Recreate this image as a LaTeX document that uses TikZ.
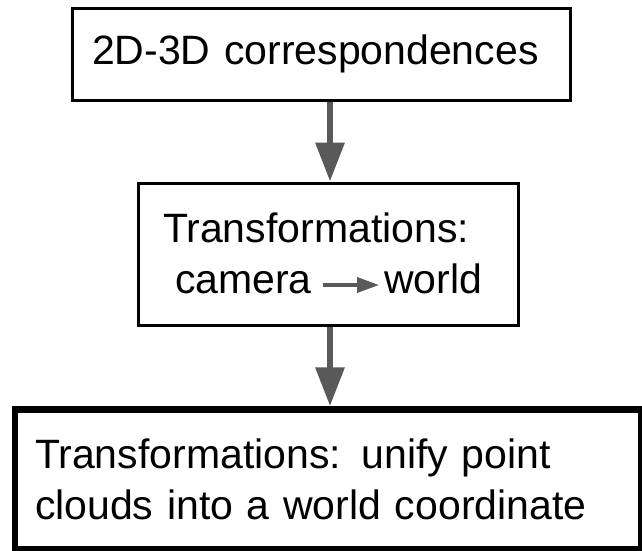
\documentclass[tikz,border=0pt]{standalone}
\usepackage{fontspec}
\setmainfont{Liberation Sans}
\usetikzlibrary{arrows.meta,calc}
\definecolor{arrowgray}{RGB}{89,89,89}
\tikzset{
  box/.style={draw=black, rectangle, line width=3pt, fill=white, inner ysep=0pt},
  bigbox/.style={draw=black, rectangle, line width=6.5pt, fill=white, inner ysep=0pt},
  lbl/.style={inner sep=0pt, outer sep=0pt},
  bigarrow/.style={draw=arrowgray, line width=6.5pt, -{Triangle[length=39pt,width=28pt]}},
  smallarrow/.style={draw=arrowgray, line width=3.5pt, -{Triangle[length=22pt,width=15pt]}},
  big/.style={font=\fontsize{41}{50.5}\selectfont}
}
\begin{document}
\begin{tikzpicture}[x=1pt,y=-1pt]
\useasboundingbox (0,0) rectangle (642,550);
% boxes
\node[box, big, minimum width=498pt, minimum height=92pt, inner xsep=20pt,
      text width=458pt, align=left] (b1) at (321,54) {2D-3D correspondences};
\node[box, minimum width=380pt, minimum height=142pt] (b2) at (328,254) {};
\node[bigbox, big, minimum width=626pt, minimum height=140pt, inner xsep=20pt,
      text width=586pt, align=left] (b3) at (328,479.5)
      {Transformations: unify point\\clouds into a world coordinate};
% middle box text
\node[lbl, big, anchor=base west] (t2) at (163,242) {Transformations:};
\node[lbl, big, anchor=base west] (cam) at (175,293) {camera};
\node[lbl, big, anchor=base east] (wld) at (482,293) {world};
\draw[smallarrow] ($(cam.base east)+(11,-8)$) -- ($(wld.base west)+(-5,-8)$);
% connectors
\coordinate (ax) at (330,0);
\draw[bigarrow] (b1.south -| ax) -- (b2.north -| ax);
\draw[bigarrow] (b2.south -| ax) -- (b3.north -| ax);
\end{tikzpicture}
\end{document}
